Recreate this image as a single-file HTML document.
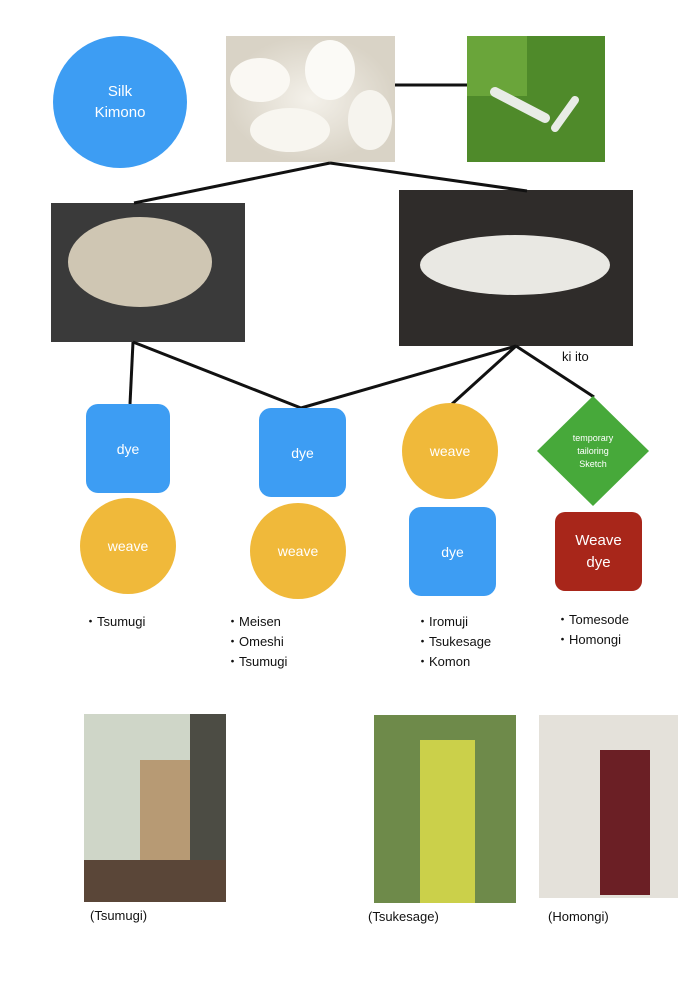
<!DOCTYPE html>
<html><head><meta charset="utf-8"><style>
body{margin:0;background:#fff;width:700px;height:990px;position:relative;overflow:hidden;font-family:"Liberation Sans",sans-serif}
.a{position:absolute}
.c{display:flex;align-items:center;justify-content:center;text-align:center;color:#fff}
.blue{background:#3d9df3;border-radius:12px}
.org{background:#f0b93a;border-radius:50%}
.t{position:absolute;font-size:13px;color:#111;line-height:20px}
</style></head><body>
<svg class="a" style="left:0;top:0" width="700" height="990">
<defs>
<radialGradient id="g1"><stop offset="0" stop-color="#f4f1ea"/><stop offset="1" stop-color="#d9d3c6"/></radialGradient>
</defs>
<rect x="226" y="36" width="169" height="126" fill="url(#g1)"/>
<ellipse cx="260" cy="80" rx="30" ry="22" fill="#faf8f3"/><ellipse cx="330" cy="70" rx="25" ry="30" fill="#fbfaf6"/><ellipse cx="290" cy="130" rx="40" ry="22" fill="#f8f6f0"/><ellipse cx="370" cy="120" rx="22" ry="30" fill="#f6f4ee"/>
<rect x="467" y="36" width="138" height="126" fill="#4f8a2a"/>
<rect x="467" y="36" width="60" height="60" fill="#6aa53a"/>
<path d="M495 92 L545 118" stroke="#e8ece6" stroke-width="10" stroke-linecap="round"/>
<path d="M555 128 L575 100" stroke="#e8ece6" stroke-width="8" stroke-linecap="round"/>
<rect x="51" y="203" width="194" height="139" fill="#3a3a3a"/>
<ellipse cx="140" cy="262" rx="72" ry="45" fill="#cfc6b3"/>
<rect x="399" y="190" width="234" height="156" fill="#2f2c2a"/>
<ellipse cx="515" cy="265" rx="95" ry="30" fill="#e9e8e3"/>
<rect x="84" y="714" width="142" height="188" fill="#cfd6c8"/>
<rect x="190" y="714" width="36" height="188" fill="#4c4c44"/>
<rect x="140" y="760" width="50" height="130" fill="#b79a74"/>
<rect x="84" y="860" width="142" height="42" fill="#5a4638"/>
<rect x="374" y="715" width="142" height="188" fill="#6e8a4a"/>
<rect x="420" y="740" width="55" height="163" fill="#cbd04a"/>
<rect x="539" y="715" width="139" height="183" fill="#e4e1da"/>
<rect x="600" y="750" width="50" height="145" fill="#6b1f25"/>
<g stroke="#111" stroke-width="3">
<line x1="395" y1="85" x2="467" y2="85"/>
<line x1="330" y1="163" x2="134" y2="203"/>
<line x1="330" y1="163" x2="527" y2="191"/>
<line x1="133" y1="342" x2="130" y2="404"/>
<line x1="133" y1="342" x2="301" y2="408"/>
<line x1="516" y1="346" x2="301" y2="408"/>
<line x1="516" y1="346" x2="452" y2="404"/>
<line x1="516" y1="346" x2="594" y2="397"/>
</g>
<polygon points="593,396 649,451 593,506 537,451" fill="#47a93a"/>
</svg>
<div class="a c" style="left:53px;top:36px;width:134px;height:132px;border-radius:50%;background:#3d9df3;font-size:15px;line-height:21px">Silk<br>Kimono</div>
<div class="t" style="left:562px;top:347px">ki ito</div>
<div class="a c blue" style="left:86px;top:404px;width:84px;height:89px;font-size:14px">dye</div>
<div class="a c org" style="left:80px;top:498px;width:96px;height:96px;font-size:14px">weave</div>
<div class="a c blue" style="left:259px;top:408px;width:87px;height:89px;font-size:14px">dye</div>
<div class="a c org" style="left:250px;top:503px;width:96px;height:96px;font-size:14px">weave</div>
<div class="a c org" style="left:402px;top:403px;width:96px;height:96px;font-size:14px">weave</div>
<div class="a c blue" style="left:409px;top:507px;width:87px;height:89px;font-size:14px">dye</div>
<div class="a c" style="left:553px;top:428px;width:80px;height:46px;font-size:9px;line-height:13px">temporary<br>tailoring<br>Sketch</div>
<div class="a c" style="left:555px;top:512px;width:87px;height:79px;background:#a8261a;border-radius:10px;font-size:15px;line-height:22px">Weave<br>dye</div>
<div class="t" style="left:84px;top:612px">・Tsumugi</div>
<div class="t" style="left:226px;top:612px">・Meisen<br>・Omeshi<br>・Tsumugi</div>
<div class="t" style="left:416px;top:612px">・Iromuji<br>・Tsukesage<br>・Komon</div>
<div class="t" style="left:556px;top:610px">・Tomesode<br>・Homongi</div>
<div class="t" style="left:90px;top:906px">(Tsumugi)</div>
<div class="t" style="left:368px;top:907px">(Tsukesage)</div>
<div class="t" style="left:548px;top:907px">(Homongi)</div>
</body></html>
